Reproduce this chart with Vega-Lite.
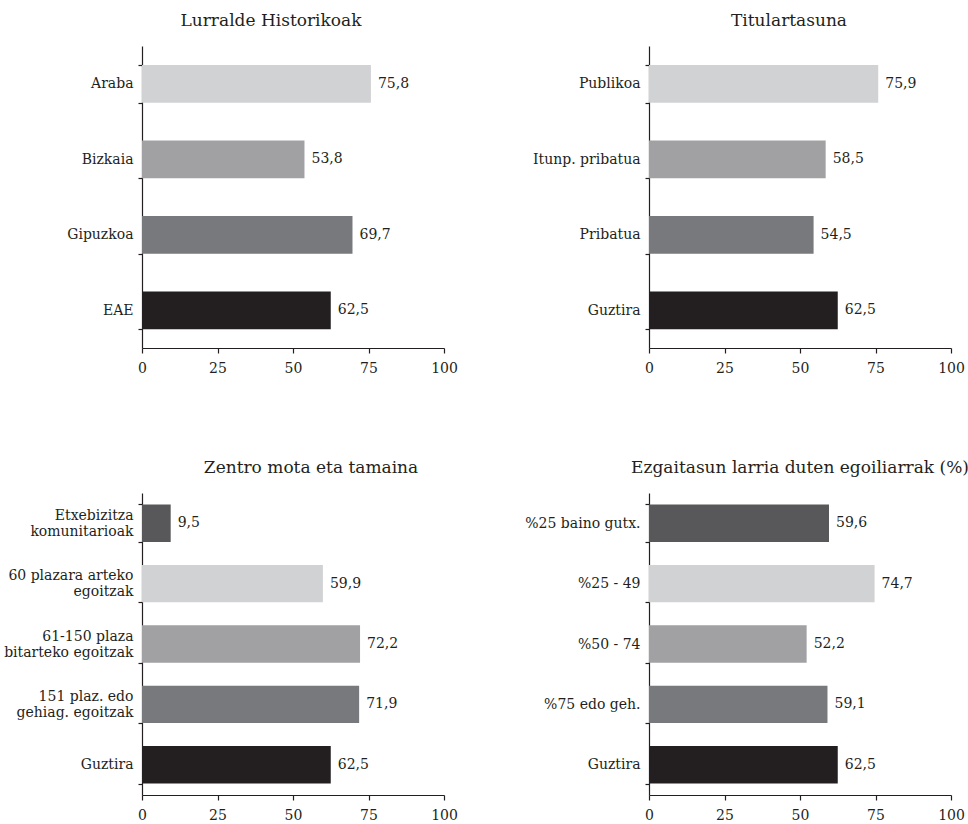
{
  "$schema": "https://vega.github.io/schema/vega-lite/v6.json",
  "autosize": {"type": "pad"},
  "padding": {"left": 3, "top": 12, "right": 0, "bottom": 0},
  "background": "white",
  "datasets": {
    "d": [
      {"panel": 1, "cat": "Araba", "value": 75.8},
      {"panel": 1, "cat": "Bizkaia", "value": 53.8},
      {"panel": 1, "cat": "Gipuzkoa", "value": 69.7},
      {"panel": 1, "cat": "EAE", "value": 62.5},
      {"panel": 2, "cat": "Publikoa", "value": 75.9},
      {"panel": 2, "cat": "Itunp. pribatua", "value": 58.5},
      {"panel": 2, "cat": "Pribatua", "value": 54.5},
      {"panel": 2, "cat": "Guztira", "value": 62.5},
      {"panel": 3, "cat": "Etxebizitza\nkomunitarioak", "value": 9.5},
      {"panel": 3, "cat": "60 plazara arteko\negoitzak", "value": 59.9},
      {"panel": 3, "cat": "61-150 plaza\nbitarteko egoitzak", "value": 72.2},
      {"panel": 3, "cat": "151 plaz. edo\ngehiag. egoitzak", "value": 71.9},
      {"panel": 3, "cat": "Guztira", "value": 62.5},
      {"panel": 4, "cat": "%25 baino gutx.", "value": 59.6},
      {"panel": 4, "cat": "%25 - 49", "value": 74.7},
      {"panel": 4, "cat": "%50 - 74", "value": 52.2},
      {"panel": 4, "cat": "%75 edo geh.", "value": 59.1},
      {"panel": 4, "cat": "Guztira", "value": 62.5}
    ]
  },
  "data": {"name": "d"},
  "columns": 2,
  "bounds": "flush",
  "spacing": {"column": 205, "row": 145},
  "resolve": {"scale": {"y": "independent", "x": "independent"}},
  "concat": [
    {
      "title": {"text": "Lurralde Historikoak", "dx": -22},
      "width": 302, "height": 302,
      "transform": [{"filter": "datum.panel == 1"}],
      "encoding": {
        "y": {"field": "cat", "type": "nominal", "sort": null, "title": null,
              "scale": {"paddingInner": 0.5, "paddingOuter": 0.25}},
        "x": {"field": "value", "type": "quantitative", "title": null,
              "scale": {"domain": [0, 100], "nice": false}, "axis": {"values": [0, 25, 50, 75, 100]}}
      },
      "layer": [
        {"mark": {"type": "bar"},
         "encoding": {"color": {"field": "cat", "type": "nominal", "legend": null,
           "scale": {"domain": ["Araba","Bizkaia","Gipuzkoa","EAE","Publikoa","Itunp. pribatua","Pribatua","Guztira","Etxebizitza\nkomunitarioak","60 plazara arteko\negoitzak","61-150 plaza\nbitarteko egoitzak","151 plaz. edo\ngehiag. egoitzak","%25 baino gutx.","%25 - 49","%50 - 74","%75 edo geh."],
                     "range": ["#d1d2d4","#a1a1a4","#78797c","#231f20","#d1d2d4","#a1a1a4","#78797c","#231f20","#58585a","#d1d2d4","#a1a1a4","#78797c","#58585a","#d1d2d4","#a1a1a4","#78797c"]}}}},
        {"mark": {"type": "text", "align": "left", "baseline": "middle", "dx": 7},
         "encoding": {"text": {"field": "value", "type": "quantitative", "format": ".1f"}}}
      ]
    },
    {
      "title": {"text": "Titulartasuna", "dx": -11},
      "width": 302, "height": 302,
      "transform": [{"filter": "datum.panel == 2"}],
      "encoding": {
        "y": {"field": "cat", "type": "nominal", "sort": null, "title": null,
              "scale": {"paddingInner": 0.5, "paddingOuter": 0.25}},
        "x": {"field": "value", "type": "quantitative", "title": null,
              "scale": {"domain": [0, 100], "nice": false}, "axis": {"values": [0, 25, 50, 75, 100]}}
      },
      "layer": [
        {"mark": {"type": "bar"},
         "encoding": {"color": {"field": "cat", "type": "nominal", "legend": null,
           "scale": {"domain": ["Araba","Bizkaia","Gipuzkoa","EAE","Publikoa","Itunp. pribatua","Pribatua","Guztira","Etxebizitza\nkomunitarioak","60 plazara arteko\negoitzak","61-150 plaza\nbitarteko egoitzak","151 plaz. edo\ngehiag. egoitzak","%25 baino gutx.","%25 - 49","%50 - 74","%75 edo geh."],
                     "range": ["#d1d2d4","#a1a1a4","#78797c","#231f20","#d1d2d4","#a1a1a4","#78797c","#231f20","#58585a","#d1d2d4","#a1a1a4","#78797c","#58585a","#d1d2d4","#a1a1a4","#78797c"]}}}},
        {"mark": {"type": "text", "align": "left", "baseline": "middle", "dx": 7},
         "encoding": {"text": {"field": "value", "type": "quantitative", "format": ".1f"}}}
      ]
    },
    {
      "title": {"text": "Zentro mota eta tamaina", "dx": 18},
      "width": 302, "height": 302,
      "transform": [{"filter": "datum.panel == 3"}],
      "encoding": {
        "y": {"field": "cat", "type": "nominal", "sort": null, "title": null,
              "scale": {"paddingInner": 0.38, "paddingOuter": 0.19},
              "axis": {"labelOffset": {"condition": {"test": "datum.value != 'Guztira'", "value": -8}, "value": 0}}},
        "x": {"field": "value", "type": "quantitative", "title": null,
              "scale": {"domain": [0, 100], "nice": false}, "axis": {"values": [0, 25, 50, 75, 100]}}
      },
      "layer": [
        {"mark": {"type": "bar"},
         "encoding": {"color": {"field": "cat", "type": "nominal", "legend": null,
           "scale": {"domain": ["Araba","Bizkaia","Gipuzkoa","EAE","Publikoa","Itunp. pribatua","Pribatua","Guztira","Etxebizitza\nkomunitarioak","60 plazara arteko\negoitzak","61-150 plaza\nbitarteko egoitzak","151 plaz. edo\ngehiag. egoitzak","%25 baino gutx.","%25 - 49","%50 - 74","%75 edo geh."],
                     "range": ["#d1d2d4","#a1a1a4","#78797c","#231f20","#d1d2d4","#a1a1a4","#78797c","#231f20","#58585a","#d1d2d4","#a1a1a4","#78797c","#58585a","#d1d2d4","#a1a1a4","#78797c"]}}}},
        {"mark": {"type": "text", "align": "left", "baseline": "middle", "dx": 7},
         "encoding": {"text": {"field": "value", "type": "quantitative", "format": ".1f"}}}
      ]
    },
    {
      "title": {"text": "Ezgaitasun larria duten egoiliarrak (%)", "dx": 0},
      "width": 302, "height": 302,
      "transform": [{"filter": "datum.panel == 4"}],
      "encoding": {
        "y": {"field": "cat", "type": "nominal", "sort": null, "title": null,
              "scale": {"paddingInner": 0.38, "paddingOuter": 0.19}},
        "x": {"field": "value", "type": "quantitative", "title": null,
              "scale": {"domain": [0, 100], "nice": false}, "axis": {"values": [0, 25, 50, 75, 100]}}
      },
      "layer": [
        {"mark": {"type": "bar"},
         "encoding": {"color": {"field": "cat", "type": "nominal", "legend": null,
           "scale": {"domain": ["Araba","Bizkaia","Gipuzkoa","EAE","Publikoa","Itunp. pribatua","Pribatua","Guztira","Etxebizitza\nkomunitarioak","60 plazara arteko\negoitzak","61-150 plaza\nbitarteko egoitzak","151 plaz. edo\ngehiag. egoitzak","%25 baino gutx.","%25 - 49","%50 - 74","%75 edo geh."],
                     "range": ["#d1d2d4","#a1a1a4","#78797c","#231f20","#d1d2d4","#a1a1a4","#78797c","#231f20","#58585a","#d1d2d4","#a1a1a4","#78797c","#58585a","#d1d2d4","#a1a1a4","#78797c"]}}}},
        {"mark": {"type": "text", "align": "left", "baseline": "middle", "dx": 7},
         "encoding": {"text": {"field": "value", "type": "quantitative", "format": ".1f"}}}
      ]
    }
  ],
  "config": {
    "locale": {"number": {"decimal": ",", "thousands": ".", "grouping": [3], "currency": ["", " €"]}},
    "font": "DejaVu Serif",
    "view": {"stroke": null},
    "title": {"font": "DejaVu Serif", "fontSize": 17, "fontWeight": "normal", "color": "#231f20", "anchor": "middle", "baseline": "bottom", "offset": 9},
    "text": {"font": "DejaVu Serif", "fontSize": 14, "color": "#231f20"},
    "axis": {"domainColor": "#231f20", "tickColor": "#231f20", "labelColor": "#231f20", "labelFont": "DejaVu Serif", "labelFontSize": 14, "grid": false, "domainWidth": 1.2, "tickWidth": 1.2},
    "axisX": {"tickSize": 5, "labelPadding": 8, "labelFlush": false, "labelOverlap": false},
    "axisY": {"tickBand": "extent", "tickSize": 4, "labelPadding": 5, "labelExpr": "split(datum.label, '\\n')", "labelLineHeight": 16, "labelLimit": 300}
  }
}
